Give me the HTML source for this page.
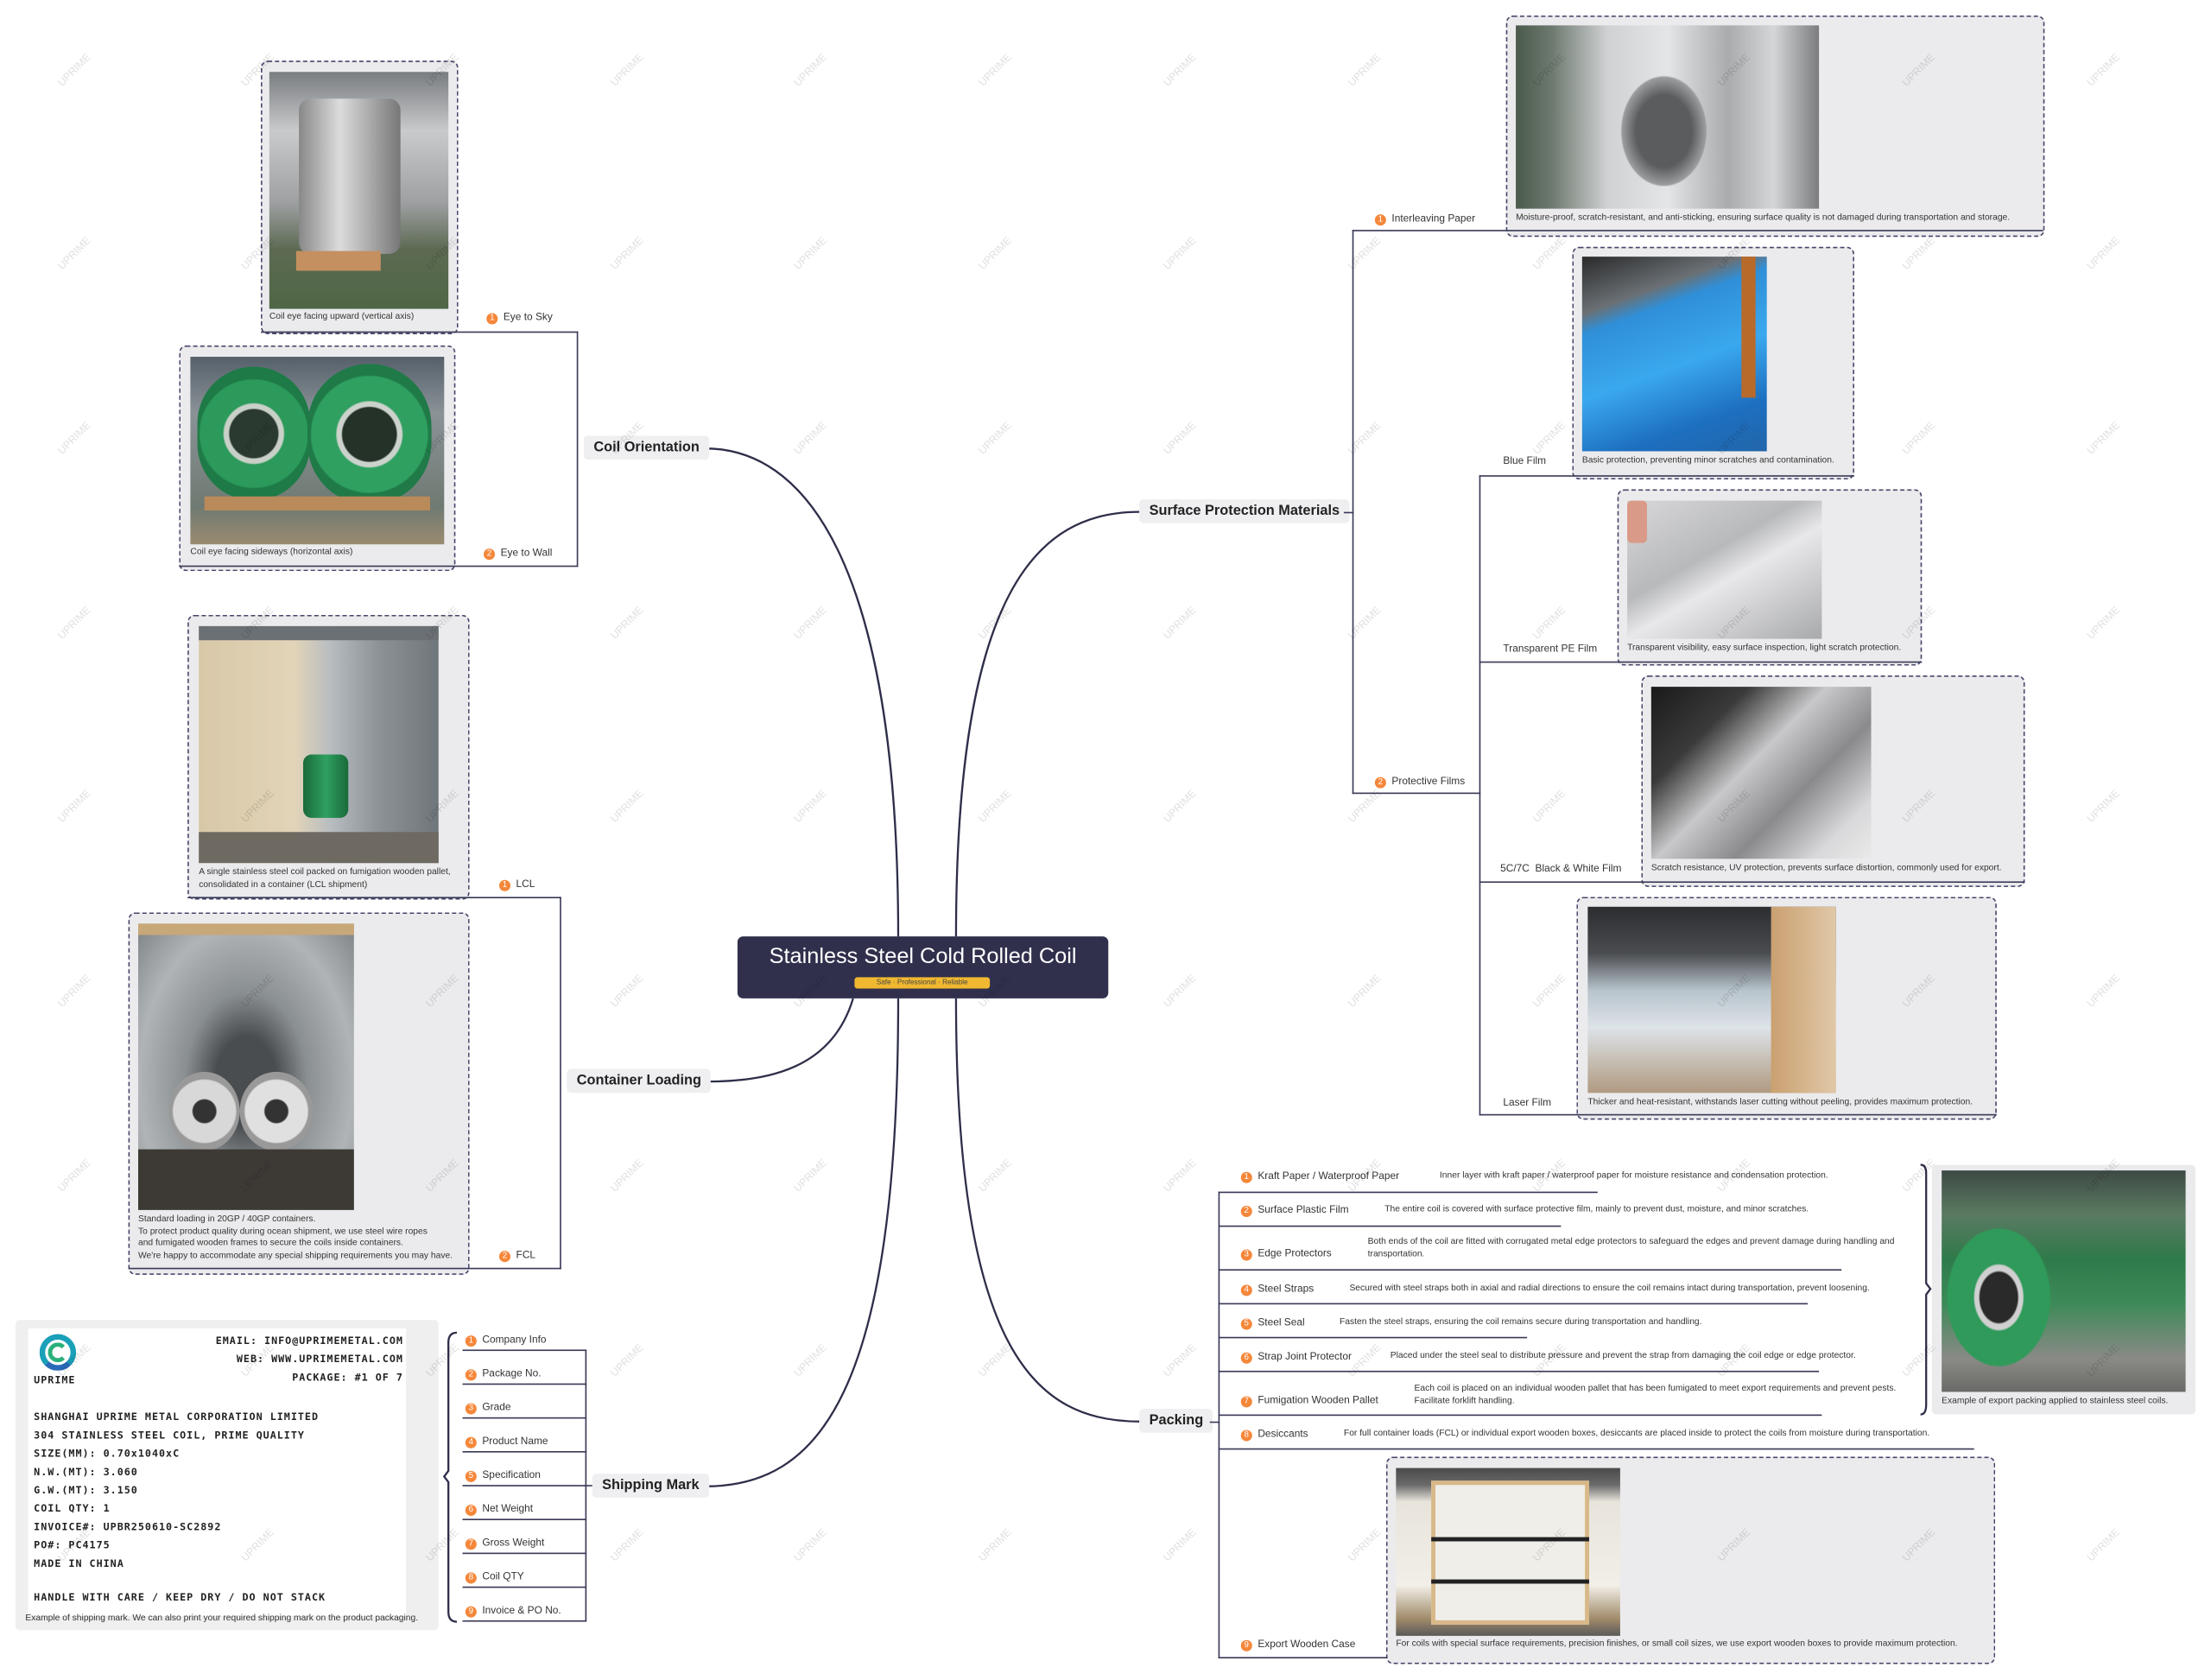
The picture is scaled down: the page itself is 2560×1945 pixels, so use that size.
<!DOCTYPE html>
<html><head><meta charset="utf-8">
<style>
html,body{margin:0;padding:0;background:#fff;width:2560px;height:1945px;overflow:hidden}
#s{position:absolute;left:0;top:0;width:1568px;height:1191px;transform:scale(1.63265);transform-origin:0 0;font-family:"Liberation Sans",sans-serif;color:#333}
.a{position:absolute}
.box{position:absolute;background:#ebebed;border:1px dashed #45456a;border-radius:5px;box-sizing:border-box}
.img{position:absolute}
.cap{position:absolute;font-size:6.3px;color:#333;line-height:8.5px;white-space:nowrap}
.lbl{position:absolute;font-size:7.3px;color:#333;white-space:nowrap}
.n{display:inline-block;width:8px;height:8px;border-radius:50%;background:#f5873a;color:#fff;font-size:6px;line-height:8px;text-align:center;margin-right:4px;vertical-align:0px}
.br{position:absolute;background:#efeff1;border-radius:3px;font-size:10px;font-weight:bold;color:#222;padding:3px 7px;white-space:nowrap}
.hl{position:absolute;height:1.3px;background:#3a3a58}
.vl{position:absolute;width:1.3px;background:#3a3a58}
.wm{position:absolute;font-size:7.5px;color:rgba(0,0,0,0.13);transform:rotate(-45deg);white-space:nowrap}
.desc{position:absolute;font-size:6.3px;color:#333;line-height:8.5px}
.sm{font-family:"DejaVu Sans Mono","Liberation Mono",monospace;font-weight:bold;font-size:7.2px;letter-spacing:0.6px;color:#222;position:absolute;white-space:nowrap}
</style></head><body><div id="s">

<svg class="a" style="left:0;top:0" width="1568" height="1191">
<g fill="none" stroke="#2e2e4a" stroke-width="1.4">
<path d="M637,664 C637,420 580,318 500,318"/>
<path d="M605,708 C590,758 545,767 500,767"/>
<path d="M637,708 C637,990 580,1054 500,1054"/>
<path d="M678,664 C678,420 735,363 808,363"/>
<path d="M678,708 C678,960 735,1008 808,1008"/>
<path d="M324,945 Q318,945 318,952 L318,1043 L315,1047 L318,1051 L318,1143 Q318,1150 324,1150"/>
<path d="M1362,826 Q1366,826 1366,832 L1366,910 L1369,914 L1366,918 L1366,996 Q1366,1003 1362,1003"/>
</g>
</svg>

<!-- center -->
<div class="a" style="left:523px;top:664px;width:263px;height:44px;background:#30304d;border-radius:4px"></div>
<div class="a" style="left:523px;top:670px;width:263px;text-align:center;color:#fff;font-size:15.5px">Stainless Steel Cold Rolled Coil</div>
<div class="a" style="left:606px;top:693px;width:96px;height:8px;background:#f0b830;border-radius:2px;font-size:5px;line-height:8px;text-align:center;color:#444">Safe · Professional · Reliable</div>

<!-- branch labels -->
<div class="br" style="left:414px;top:309px">Coil Orientation</div>
<div class="br" style="left:402px;top:758px">Container Loading</div>
<div class="br" style="left:420px;top:1045px">Shipping Mark</div>
<div class="br" style="left:808px;top:354px">Surface Protection Materials</div>
<div class="br" style="left:808px;top:999px">Packing</div>

<!-- Coil orientation -->
<div class="box" style="left:185px;top:43px;width:140px;height:194px"></div>
<div class="img" style="left:191px;top:51px;width:127px;height:168px;background:linear-gradient(180deg,#7a7d80 0%,#c8cacc 25%,#9ea0a2 55%,#5c6a52 75%,#4f6645 100%)"></div>
<div class="img" style="left:212px;top:70px;width:72px;height:110px;border-radius:8px;background:linear-gradient(90deg,#888 0%,#dcdcdc 40%,#aaa 70%,#777 100%)"></div>
<div class="img" style="left:210px;top:178px;width:60px;height:14px;background:#c49060"></div>
<div class="cap" style="left:191px;top:221px">Coil eye facing upward (vertical axis)</div>
<div class="lbl" style="left:345px;top:220px"><span class="n">1</span>Eye to Sky</div>
<div class="hl" style="left:185px;top:235px;width:225px"></div>

<div class="box" style="left:127px;top:245px;width:196px;height:160px"></div>
<div class="img" style="left:135px;top:253px;width:180px;height:133px;background:linear-gradient(180deg,#55606a 0%,#8a9297 30%,#6f7a72 80%,#9a8a70 100%)"></div>
<div class="img" style="left:140px;top:260px;width:80px;height:95px;border-radius:40px;background:radial-gradient(circle at 50% 50%,#2a3a30 0 17px,#c9d0c8 18px 21px,#2b9a5a 22px 38px,#1e7a46 39px)"></div>
<div class="img" style="left:218px;top:258px;width:88px;height:100px;border-radius:44px;background:radial-gradient(circle at 50% 50%,#253228 0 19px,#ccd2cc 20px 23px,#2fa060 24px 41px,#1f7a48 42px)"></div>
<div class="img" style="left:145px;top:352px;width:160px;height:10px;background:#b98a5a"></div>
<div class="cap" style="left:135px;top:388px">Coil eye facing sideways (horizontal axis)</div>
<div class="lbl" style="left:343px;top:387px"><span class="n">2</span>Eye to Wall</div>
<div class="hl" style="left:127px;top:401px;width:283px"></div>
<div class="vl" style="left:409px;top:235px;height:167px"></div>

<!-- Container loading -->
<div class="box" style="left:133px;top:436px;width:200px;height:202px"></div>
<div class="img" style="left:141px;top:444px;width:170px;height:168px;background:linear-gradient(90deg,#d8c8a8 0%,#e2d4b8 40%,#b7bcc0 55%,#8c9296 75%,#6f767b 100%)"></div>
<div class="img" style="left:141px;top:444px;width:170px;height:10px;background:#6b7075"></div>
<div class="img" style="left:215px;top:535px;width:32px;height:45px;border-radius:6px;background:linear-gradient(90deg,#1a6a3a,#2fa060,#1a6a3a)"></div>
<div class="img" style="left:141px;top:590px;width:170px;height:22px;background:#6e6a62"></div>
<div class="cap" style="left:141px;top:615px">A single stainless steel coil packed on fumigation wooden pallet,<br>consolidated in a container (LCL shipment)</div>
<div class="lbl" style="left:354px;top:622px"><span class="n">1</span>LCL</div>
<div class="hl" style="left:133px;top:636px;width:265px"></div>

<div class="box" style="left:91px;top:647px;width:242px;height:257px"></div>
<div class="img" style="left:98px;top:655px;width:153px;height:203px;background:radial-gradient(ellipse at 50% 55%,#4a4d50 0 20%,#8a8f92 40%,#b0b4b6 70%,#7d8286 100%)"></div>
<div class="img" style="left:98px;top:655px;width:153px;height:8px;background:#c8a878"></div>
<div class="img" style="left:120px;top:760px;width:50px;height:56px;border-radius:50%;background:radial-gradient(circle,#333 0 8px,#d8d8d8 9px 22px,#999 23px)"></div>
<div class="img" style="left:170px;top:760px;width:52px;height:56px;border-radius:50%;background:radial-gradient(circle,#333 0 8px,#e0e0e0 9px 22px,#999 23px)"></div>
<div class="img" style="left:98px;top:815px;width:153px;height:43px;background:#3d3a36"></div>
<div class="cap" style="left:98px;top:861px">Standard loading in 20GP / 40GP containers.<br>To protect product quality during ocean shipment, we use steel wire ropes<br>and fumigated wooden frames to secure the coils inside containers.<br>We're happy to accommodate any special shipping requirements you may have.</div>
<div class="lbl" style="left:354px;top:885px"><span class="n">2</span>FCL</div>
<div class="hl" style="left:91px;top:899px;width:307px"></div>
<div class="vl" style="left:397px;top:636px;height:264px"></div>

<!-- Shipping mark -->
<div class="a" style="left:11px;top:936px;width:300px;height:220px;background:#efeff0;border-radius:3px"></div>
<div class="a" style="left:20px;top:942px;width:268px;height:204px;background:#fff"></div>
<div class="a" style="left:28px;top:946px;width:26px;height:26px;border-radius:50%;border:4px solid #1aa0b8;border-bottom-color:#2a6ab8;box-sizing:border-box"></div>
<div class="a" style="left:34px;top:952px;width:14px;height:14px;border-radius:50%;border:3px solid #2ab07a;box-sizing:border-box;border-right-color:transparent"></div>
<div class="sm" style="left:24px;top:974px">UPRIME</div>
<div class="sm" style="left:140px;top:946px;width:146px;text-align:right">EMAIL: INFO@UPRIMEMETAL.COM</div>
<div class="sm" style="left:140px;top:959px;width:146px;text-align:right">WEB: WWW.UPRIMEMETAL.COM</div>
<div class="sm" style="left:140px;top:972px;width:146px;text-align:right">PACKAGE: #1 OF 7</div>
<div class="sm" style="left:24px;top:998px;line-height:13px">SHANGHAI UPRIME METAL CORPORATION LIMITED<br>304 STAINLESS STEEL COIL, PRIME QUALITY<br>SIZE(MM): 0.70x1040xC<br>N.W.(MT): 3.060<br>G.W.(MT): 3.150<br>COIL QTY: 1<br>INVOICE#: UPBR250610-SC2892<br>PO#: PC4175<br>MADE IN CHINA</div>
<div class="sm" style="left:24px;top:1128px">HANDLE WITH CARE / KEEP DRY / DO NOT STACK</div>
<div class="cap" style="left:18px;top:1144px">Example of shipping mark. We can also print your required shipping mark on the product packaging.</div>

<div class="lbl" style="left:330px;top:945px"><span class="n">1</span>Company Info</div>
<div class="lbl" style="left:330px;top:969px"><span class="n">2</span>Package No.</div>
<div class="lbl" style="left:330px;top:993px"><span class="n">3</span>Grade</div>
<div class="lbl" style="left:330px;top:1017px"><span class="n">4</span>Product Name</div>
<div class="lbl" style="left:330px;top:1041px"><span class="n">5</span>Specification</div>
<div class="lbl" style="left:330px;top:1065px"><span class="n">6</span>Net Weight</div>
<div class="lbl" style="left:330px;top:1089px"><span class="n">7</span>Gross Weight</div>
<div class="lbl" style="left:330px;top:1113px"><span class="n">8</span>Coil QTY</div>
<div class="lbl" style="left:330px;top:1137px"><span class="n">9</span>Invoice &amp; PO No.</div>
<div class="hl" style="left:328px;top:957px;width:88px"></div>
<div class="hl" style="left:328px;top:981px;width:88px"></div>
<div class="hl" style="left:328px;top:1005px;width:88px"></div>
<div class="hl" style="left:328px;top:1029px;width:88px"></div>
<div class="hl" style="left:328px;top:1053px;width:92px"></div>
<div class="hl" style="left:328px;top:1077px;width:88px"></div>
<div class="hl" style="left:328px;top:1101px;width:88px"></div>
<div class="hl" style="left:328px;top:1125px;width:88px"></div>
<div class="hl" style="left:328px;top:1149px;width:88px"></div>
<div class="vl" style="left:415px;top:957px;height:193px"></div>

<!-- Surface protection -->
<div class="box" style="left:1068px;top:11px;width:382px;height:157px"></div>
<div class="img" style="left:1075px;top:18px;width:215px;height:130px;background:linear-gradient(90deg,#4a5a4a 0%,#6e7a70 12%,#cfd1d2 30%,#e4e5e6 50%,#a9abad 70%,#d5d6d7 85%,#7a7c7e 100%)"></div>
<div class="img" style="left:1145px;top:48px;width:70px;height:90px;border-radius:50%;background:radial-gradient(ellipse,#5a5c5e 0 40%,#9a9c9e 60%,transparent 62%)"></div>
<div class="cap" style="left:1075px;top:151px">Moisture-proof, scratch-resistant, and anti-sticking, ensuring surface quality is not damaged during transportation and storage.</div>
<div class="lbl" style="left:975px;top:150px"><span class="n">1</span>Interleaving Paper</div>
<div class="hl" style="left:959px;top:163px;width:490px"></div>

<div class="box" style="left:1115px;top:175px;width:200px;height:165px"></div>
<div class="img" style="left:1122px;top:182px;width:131px;height:138px;background:linear-gradient(160deg,#2a2a2a 0%,#6a7075 22%,#2f8fd8 30%,#3aa8ee 55%,#1d6fc0 80%,#2266aa 100%)"></div>
<div class="img" style="left:1235px;top:182px;width:10px;height:100px;background:#b86a2a"></div>
<div class="cap" style="left:1122px;top:323px">Basic protection, preventing minor scratches and contamination.</div>
<div class="lbl" style="left:1066px;top:322px">Blue Film</div>
<div class="hl" style="left:1049px;top:337px;width:266px"></div>

<div class="box" style="left:1147px;top:347px;width:216px;height:125px"></div>
<div class="img" style="left:1154px;top:355px;width:138px;height:98px;background:linear-gradient(150deg,#d8d8da 0%,#b8b9bb 40%,#e8e8ea 55%,#a8a9ab 100%)"></div>
<div class="img" style="left:1154px;top:355px;width:14px;height:30px;background:#d99a88;border-radius:3px"></div>
<div class="cap" style="left:1154px;top:456px">Transparent visibility, easy surface inspection, light scratch protection.</div>
<div class="lbl" style="left:1066px;top:455px">Transparent PE Film</div>
<div class="hl" style="left:1049px;top:469px;width:314px"></div>

<div class="box" style="left:1164px;top:479px;width:272px;height:150px"></div>
<div class="img" style="left:1171px;top:487px;width:156px;height:122px;background:linear-gradient(135deg,#1a1a1a 0%,#3a3a3a 25%,#c8c8ca 45%,#8a8a8c 65%,#d8d8da 85%,#eaeaea 100%)"></div>
<div class="cap" style="left:1171px;top:612px">Scratch resistance, UV protection, prevents surface distortion, commonly used for export.</div>
<div class="lbl" style="left:1064px;top:611px">5C/7C&nbsp; Black &amp; White Film</div>
<div class="hl" style="left:1049px;top:625px;width:387px"></div>

<div class="box" style="left:1118px;top:636px;width:298px;height:158px"></div>
<div class="img" style="left:1126px;top:643px;width:176px;height:132px;background:linear-gradient(180deg,#2b2d30 0%,#4a4c50 25%,#b8c4cc 45%,#dde3e8 65%,#b09a80 100%)"></div>
<div class="img" style="left:1256px;top:643px;width:46px;height:132px;background:linear-gradient(90deg,#caa070,#e0c8a8)"></div>
<div class="cap" style="left:1126px;top:778px">Thicker and heat-resistant, withstands laser cutting without peeling, provides maximum protection.</div>
<div class="lbl" style="left:1066px;top:777px">Laser Film</div>
<div class="hl" style="left:1049px;top:790px;width:367px"></div>
<div class="vl" style="left:1049px;top:337px;height:454px"></div>
<div class="lbl" style="left:975px;top:549px"><span class="n">2</span>Protective Films</div>
<div class="hl" style="left:959px;top:562px;width:91px"></div>
<div class="vl" style="left:959px;top:163px;height:400px"></div>
<div class="hl" style="left:953px;top:363px;width:7px"></div>

<!-- Packing -->
<div class="lbl" style="left:880px;top:829px"><span class="n">1</span>Kraft Paper / Waterproof Paper</div>
<div class="desc" style="left:1021px;top:830px;white-space:nowrap">Inner layer with kraft paper / waterproof paper for moisture resistance and condensation protection.</div>
<div class="hl" style="left:864px;top:845px;width:269px"></div>
<div class="lbl" style="left:880px;top:853px"><span class="n">2</span>Surface Plastic Film</div>
<div class="desc" style="left:982px;top:854px;white-space:nowrap">The entire coil is covered with surface protective film, mainly to prevent dust, moisture, and minor scratches.</div>
<div class="hl" style="left:864px;top:869px;width:243px"></div>
<div class="lbl" style="left:880px;top:884px"><span class="n">3</span>Edge Protectors</div>
<div class="desc" style="left:970px;top:877px;width:380px">Both ends of the coil are fitted with corrugated metal edge protectors to safeguard the edges and prevent damage during handling and transportation.</div>
<div class="hl" style="left:864px;top:900px;width:442px"></div>
<div class="lbl" style="left:880px;top:909px"><span class="n">4</span>Steel Straps</div>
<div class="desc" style="left:957px;top:910px;white-space:nowrap">Secured with steel straps both in axial and radial directions to ensure the coil remains intact during transportation, prevent loosening.</div>
<div class="hl" style="left:864px;top:924px;width:418px"></div>
<div class="lbl" style="left:880px;top:933px"><span class="n">5</span>Steel Seal</div>
<div class="desc" style="left:950px;top:934px;white-space:nowrap">Fasten the steel straps, ensuring the coil remains secure during transportation and handling.</div>
<div class="hl" style="left:864px;top:948px;width:219px"></div>
<div class="lbl" style="left:880px;top:957px"><span class="n">6</span>Strap Joint Protector</div>
<div class="desc" style="left:986px;top:958px;white-space:nowrap">Placed under the steel seal to distribute pressure and prevent the strap from damaging the coil edge or edge protector.</div>
<div class="hl" style="left:864px;top:972px;width:426px"></div>
<div class="lbl" style="left:880px;top:988px"><span class="n">7</span>Fumigation Wooden Pallet</div>
<div class="desc" style="left:1003px;top:981px;width:345px">Each coil is placed on an individual wooden pallet that has been fumigated to meet export requirements and prevent pests. Facilitate forklift handling.</div>
<div class="hl" style="left:864px;top:1003px;width:428px"></div>
<div class="lbl" style="left:880px;top:1012px"><span class="n">8</span>Desiccants</div>
<div class="desc" style="left:953px;top:1013px;white-space:nowrap">For full container loads (FCL) or individual export wooden boxes, desiccants are placed inside to protect the coils from moisture during transportation.</div>
<div class="hl" style="left:864px;top:1027px;width:536px"></div>
<div class="box" style="left:983px;top:1033px;width:432px;height:147px"></div>
<div class="img" style="left:990px;top:1041px;width:159px;height:119px;background:linear-gradient(180deg,#4a4a4a 0%,#6a6a6a 10%,#e8e4dc 20%,#f2efe8 70%,#a08a6a 90%,#5a5a5a 100%)"></div>
<div class="img" style="left:1015px;top:1050px;width:112px;height:102px;border:3px solid #d8b888;box-sizing:border-box;background:#f0eee8"></div>
<div class="img" style="left:1015px;top:1090px;width:112px;height:3px;background:#222"></div>
<div class="img" style="left:1015px;top:1120px;width:112px;height:3px;background:#222"></div>
<div class="cap" style="left:990px;top:1162px">For coils with special surface requirements, precision finishes, or small coil sizes, we use export wooden boxes to provide maximum protection.</div>
<div class="lbl" style="left:880px;top:1161px"><span class="n">9</span>Export Wooden Case</div>
<div class="hl" style="left:864px;top:1175px;width:120px"></div>
<div class="vl" style="left:864px;top:845px;height:331px"></div>
<div class="hl" style="left:858px;top:1008px;width:7px"></div>

<div class="a" style="left:1370px;top:826px;width:187px;height:177px;background:#ebebed;border-radius:3px"></div>
<div class="img" style="left:1377px;top:830px;width:173px;height:157px;background:linear-gradient(180deg,#3e4a44 0%,#5a7a62 20%,#2f7a4a 40%,#3d8a58 60%,#8a8a86 85%,#6a6a68 100%)"></div>
<div class="img" style="left:1380px;top:870px;width:75px;height:100px;border-radius:50%;background:radial-gradient(ellipse,#2a2a2a 0 25%,#d0d0d0 27% 32%,#2f9a5a 34% 68%,transparent 70%)"></div>
<div class="cap" style="left:1377px;top:990px">Example of export packing applied to stainless steel coils.</div>

<!-- watermarks -->
<div id="wm"></div>
</div>
<script>
var w=document.getElementById('wm'),h='';
var xs=[50,180,311,442,572,703,834,965,1096,1227,1358,1489],ys=[50,180,311,442,572,703,834,965,1096];
for(var i=0;i<xs.length;i++)for(var j=0;j<ys.length;j++)h+='<div class="wm" style="left:'+(xs[i]-12)+'px;top:'+(ys[j]-5)+'px">UPRIME</div>';
w.innerHTML=h;
</script>
</body></html>
